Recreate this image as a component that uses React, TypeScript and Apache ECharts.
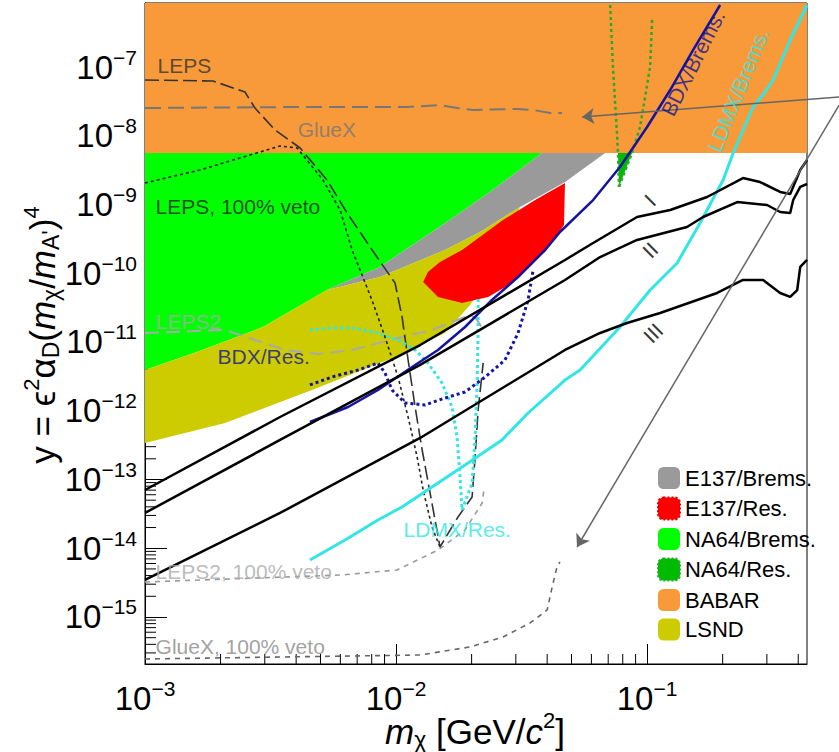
import React, { useEffect, useRef } from "react";
import * as echarts from "echarts";

const FONT = "'Liberation Sans', Arial, Helvetica, sans-serif";

// All coordinates are [log10(m_chi / GeV), log10(y)]
const X_RANGE = [-3, -0.363];
const Y_RANGE = [-15.684, -6.069];

// ---- excluded regions (filled) ----
const BABAR = [[-3, -8.251], [-0.363, -8.251], [-0.363, -6.069], [-3, -6.069]];
const NA64_BREMS = [[-3, -8.251], [-1.418, -8.251], [-1.626, -8.818], [-1.797, -9.254], [-1.964, -9.662], [-2.064, -9.909], [-2.275, -10.244], [-2.530, -10.782], [-2.793, -11.145], [-3, -11.407]];
const E137_BREMS = [[-2.275, -10.244], [-2.064, -9.909], [-1.964, -9.662], [-1.797, -9.254], [-1.626, -8.818], [-1.418, -8.251], [-1.167, -8.251], [-1.327, -8.673], [-1.506, -9.036], [-1.665, -9.400], [-1.805, -9.662], [-2.064, -10.055]];
const LSND = [[-3, -11.407], [-2.793, -11.145], [-2.530, -10.782], [-2.275, -10.244], [-2.064, -10.055], [-1.805, -9.662], [-1.665, -9.400], [-1.506, -9.036], [-1.586, -9.807], [-1.705, -10.462], [-1.805, -10.869], [-2.004, -11.218], [-2.335, -11.698], [-2.681, -12.178], [-3, -12.469]];
const E137_RES = [[-1.327, -8.687], [-1.331, -9.298], [-1.378, -9.545], [-1.434, -9.764], [-1.538, -10.142], [-1.633, -10.345], [-1.737, -10.433], [-1.833, -10.345], [-1.892, -10.127], [-1.873, -9.982], [-1.825, -9.836], [-1.737, -9.662], [-1.574, -9.226], [-1.446, -8.935]];
const NA64_RES_LEFT = [[-1.147, -6.098], [-1.136, -7.0], [-1.120, -7.960], [-1.116, -8.251], [-1.112, -8.745]];
const NA64_RES_RIGHT = [[-0.980, -6.316], [-0.988, -7.0], [-1.028, -7.873], [-1.060, -8.251], [-1.112, -8.745]];

// ---- projected sensitivities (curves) ----
const BDX_BREMS = [[-2.343, -12.164], [-2.191, -11.946], [-2.072, -11.698], [-1.936, -11.364], [-1.833, -11.116], [-1.725, -10.782], [-1.618, -10.389], [-1.514, -10.055], [-1.406, -9.662], [-1.347, -9.400], [-1.215, -8.935], [-1.108, -8.455], [-1.000, -7.873], [-0.908, -7.335], [-0.817, -6.753], [-0.709, -6.098]];
const BDX_RES = [[-2.343, -11.625], [-2.255, -11.509], [-2.151, -11.407], [-2.072, -11.305], [-2.044, -11.451], [-2.016, -11.698], [-1.964, -11.887], [-1.884, -11.916], [-1.805, -11.815], [-1.725, -11.727], [-1.645, -11.509], [-1.566, -11.262], [-1.514, -10.869], [-1.474, -10.389], [-1.454, -9.953]];
const LDMX_BREMS = [[-2.343, -14.171], [-2.203, -13.880], [-2.072, -13.589], [-1.976, -13.400], [-1.833, -13.051], [-1.713, -12.760], [-1.578, -12.425], [-1.474, -12.033], [-1.327, -11.553], [-1.267, -11.407], [-1.108, -10.782], [-0.988, -10.244], [-0.880, -9.851], [-0.789, -9.269], [-0.697, -8.644], [-0.657, -8.251], [-0.578, -7.582], [-0.530, -7.364], [-0.498, -7.189], [-0.430, -6.607], [-0.363, -6.098]];
const LDMX_RES = [[-2.343, -10.825], [-2.255, -10.796], [-2.175, -10.796], [-2.072, -10.869], [-1.992, -10.971], [-1.924, -11.116], [-1.873, -11.305], [-1.817, -11.596], [-1.777, -11.946], [-1.757, -12.382], [-1.745, -12.964], [-1.737, -13.444], [-1.697, -13.051], [-1.685, -12.382], [-1.677, -11.596], [-1.673, -10.869], [-1.673, -10.345]];
const LINE_I = [[-3, -13.153], [-2.462, -12.091], [-1.904, -11.044], [-1.327, -9.807], [-1.215, -9.560], [-1.040, -9.182], [-0.908, -9.080], [-0.761, -8.891], [-0.618, -8.615], [-0.550, -8.673], [-0.470, -8.818], [-0.430, -8.847], [-0.390, -8.498], [-0.363, -8.353]];
const LINE_II = [[-3, -13.487], [-2.462, -12.425], [-1.904, -11.334], [-1.327, -10.098], [-1.187, -9.764], [-1.040, -9.516], [-0.841, -9.327], [-0.777, -9.182], [-0.641, -8.964], [-0.522, -9.007], [-0.470, -9.109], [-0.430, -9.124], [-0.418, -8.935], [-0.390, -8.745], [-0.363, -8.702]];
const LINE_III = [[-3, -14.462], [-2.462, -13.487], [-1.904, -12.396], [-1.327, -11.116], [-1.187, -10.869], [-1.080, -10.724], [-0.948, -10.578], [-0.721, -10.287], [-0.618, -10.098], [-0.538, -10.098], [-0.470, -10.287], [-0.430, -10.345], [-0.402, -10.244], [-0.390, -9.909], [-0.363, -9.807]];
const LEPS = [[-3, -7.189], [-2.729, -7.204], [-2.602, -7.364], [-2.562, -7.596], [-2.482, -7.916], [-2.382, -8.178], [-2.275, -8.644], [-2.195, -9.124], [-2.076, -9.764], [-2.004, -10.142], [-1.976, -10.636], [-1.952, -11.262], [-1.924, -11.946], [-1.896, -12.571], [-1.857, -13.342], [-1.825, -13.982], [-1.753, -13.545], [-1.697, -13.254], [-1.685, -12.673], [-1.673, -11.989], [-1.653, -11.305]];
const LEPS_VETO = [[-3, -8.687], [-2.781, -8.498], [-2.582, -8.280], [-2.462, -8.149], [-2.394, -8.178], [-2.291, -8.644], [-2.223, -9.080], [-2.175, -9.662], [-2.096, -10.389], [-2.044, -10.927], [-1.992, -11.509], [-1.952, -12.091], [-1.916, -12.673], [-1.892, -13.153], [-1.857, -13.691], [-1.825, -13.982]];
const GLUEX = [[-3, -7.596], [-2.382, -7.582], [-1.956, -7.582], [-1.825, -7.553], [-1.757, -7.596], [-1.693, -7.625], [-1.518, -7.611], [-1.454, -7.625], [-1.386, -7.669], [-1.339, -7.669]];
const LEPS2 = [[-3, -10.869], [-2.681, -10.825], [-2.562, -10.971], [-2.442, -11.116], [-2.311, -11.174], [-2.175, -11.116], [-1.992, -10.942], [-1.857, -10.825], [-1.725, -10.636], [-1.685, -10.636], [-1.657, -10.796]];
const LEPS2_VETO = [[-3, -14.491], [-2.215, -14.389], [-1.996, -14.316], [-1.833, -14.026], [-1.725, -13.734], [-1.657, -13.342], [-1.649, -13.124]];
const GLUEX_VETO = [[-3, -15.611], [-1.904, -15.553], [-1.705, -15.436], [-1.574, -15.291], [-1.466, -15.087], [-1.398, -14.898], [-1.378, -14.563], [-1.359, -14.273], [-1.347, -14.200]];

// ---- arrows (start, end) ----
const ARROWS = [
  [[-0.235, -7.436], [-1.259, -7.727]],
  [[-0.235, -7.553], [-1.279, -13.982]],
];

// ---- annotation anchors ----
const NOTES = [
  { text: "LEPS", at: [-2.952, -6.985] },
  { text: "GlueX", at: [-2.394, -7.916] },
  { text: "LEPS, 100% veto", at: [-2.960, -9.036] },
  { text: "LEPS2", at: [-2.960, -10.709] },
  { text: "BDX/Res.", at: [-2.713, -11.218] },
  { text: "LDMX/Res.", at: [-1.972, -13.734] },
  { text: "LEPS2, 100% veto", at: [-2.960, -14.345] },
  { text: "GlueX, 100% veto", at: [-2.960, -15.436] },
  { text: "BDX/Brems.", at: [-0.817, -6.942] },
  { text: "LDMX/Brems.", at: [-0.637, -7.335] },
  { text: "I", at: [-0.988, -8.935] },
  { text: "II", at: [-0.988, -9.662] },
  { text: "III", at: [-0.976, -10.869] },
];

const LEGEND_NAMES = ["E137/Brems.", "E137/Res.", "NA64/Brems.", "NA64/Res.", "BABAR", "LSND"];

// ---- styles ----
const COL = {
  babar: "#f89a3a",
  na64b: "#00ff00",
  e137b: "#9a9a9a",
  lsnd: "#cccc00",
  e137r: "#ff0000",
  na64r: "#00bb00",
  na64rLine: "#2da82d",
  bdx: "#1414a0",
  ldmx: "#33e6e6",
};

const NOTE_STYLE: Record<string, any> = {
  "LEPS": { color: "#333333" },
  "GlueX": { color: "#777777" },
  "LEPS, 100% veto": { color: "#222222" },
  "LEPS2": { color: "#aaaaaa" },
  "BDX/Res.": { color: "#141496" },
  "LDMX/Res.": { color: "#2ee6e6" },
  "LEPS2, 100% veto": { color: "#aaaaaa" },
  "GlueX, 100% veto": { color: "#888888" },
  "BDX/Brems.": { color: "#141496", rotate: 63, center: true },
  "LDMX/Brems.": { color: "#2ee6e6", rotate: 68, center: true },
  "I": { color: "#000000", rotate: 45, center: true },
  "II": { color: "#000000", rotate: 45, center: true },
  "III": { color: "#000000", rotate: 45, center: true },
};

const LEGEND_STYLE: Record<string, any> = {
  "E137/Brems.": { color: COL.e137b },
  "E137/Res.": { color: COL.e137r, borderColor: "#dd0000", borderWidth: 2, borderType: "dotted" },
  "NA64/Brems.": { color: COL.na64b },
  "NA64/Res.": { color: COL.na64r, borderColor: COL.na64rLine, borderWidth: 2, borderType: "dotted" },
  "BABAR": { color: COL.babar },
  "LSND": { color: COL.lsnd },
};

function polygonSeries(name: string, pts: number[][], fill: string) {
  return {
    type: "custom",
    name,
    silent: true,
    coordinateSystem: "cartesian2d",
    data: pts,
    encode: { x: 0, y: 1 },
    itemStyle: { color: fill },
    renderItem: (params: any, api: any) => {
      if (params.dataIndex !== 0) return null;
      return {
        type: "polygon",
        shape: { points: pts.map((p) => api.coord(p)) },
        style: { fill, stroke: "none" },
      };
    },
  };
}

function curveSeries(name: string, pts: number[][], color: string, width: number, type: any) {
  return {
    type: "line",
    name,
    data: pts,
    silent: true,
    showSymbol: false,
    symbol: "none",
    lineStyle: { color, width, type, cap: "butt" },
  };
}

function tickSeries(values: number[][], dir: "x" | "y", len: number) {
  return {
    type: "custom",
    silent: true,
    coordinateSystem: "cartesian2d",
    data: values,
    encode: { x: 0, y: 1 },
    renderItem: (params: any, api: any) => {
      const p = api.coord([api.value(0), api.value(1)]);
      const shape = dir === "x"
        ? { x1: p[0], y1: p[1], x2: p[0], y2: p[1] - len }
        : { x1: p[0], y1: p[1], x2: p[0] + len, y2: p[1] };
      return { type: "line", shape, style: { stroke: "#000", lineWidth: 1 } };
    },
  };
}

const X_MINOR: number[][] = [];
for (let d = -3; d <= -1; d++) {
  for (let k = 2; k <= 9; k++) {
    const v = d + Math.log10(k);
    if (v < X_RANGE[1]) X_MINOR.push([v, Y_RANGE[0]]);
  }
}
const Y_MINOR: number[][] = [];
for (let d = -16; d <= -7; d++) {
  for (let k = 2; k <= 9; k++) {
    const v = d + Math.log10(k);
    if (v > Y_RANGE[0] && v < Y_RANGE[1]) Y_MINOR.push([X_RANGE[0], v]);
  }
}

const powLabel = (v: number) => {
  const r = Math.round(v);
  if (Math.abs(v - r) > 1e-6) return "";
  return `{b|10}{e|\u2212${-r}}`;
};
const powRich = {
  b: { fontSize: 33, fontFamily: FONT, color: "#000" },
  e: { fontSize: 21, fontFamily: FONT, color: "#000", padding: [0, 0, 20, 0] },
};

const titleRich = {
  n: { fontSize: 35, fontFamily: FONT, color: "#000" },
  i: { fontSize: 35, fontFamily: FONT, color: "#000", fontStyle: "italic" },
  sup: { fontSize: 22, fontFamily: FONT, color: "#000", padding: [0, 0, 21, 0] },
  sub: { fontSize: 23, fontFamily: FONT, color: "#000", padding: [17, 0, 0, 0] },
};

function buildOption() {
  const na64ResFill = NA64_RES_LEFT.concat(NA64_RES_RIGHT.slice().reverse());
  return {
    animation: false,
    backgroundColor: "#ffffff",
    grid: {
      left: 145, top: 3, width: 662, height: 661,
      show: true, borderColor: "#000", borderWidth: 1, backgroundColor: "transparent",
      containLabel: false,
    },
    xAxis: {
      type: "value",
      min: X_RANGE[0], max: X_RANGE[1],
      minInterval: 1, maxInterval: 1, splitNumber: 3,
      axisLine: { show: true, onZero: false, lineStyle: { color: "#000", width: 1 } },
      axisTick: { show: true, inside: true, length: 20, lineStyle: { color: "#000", width: 1 } },
      splitLine: { show: false },
      axisLabel: {
        show: true, margin: 14, showMinLabel: true, showMaxLabel: false,
        formatter: powLabel, rich: powRich, fontFamily: FONT,
      },
    },
    yAxis: {
      type: "value",
      min: Y_RANGE[0], max: Y_RANGE[1],
      minInterval: 1, maxInterval: 1, splitNumber: 10,
      axisLine: { show: true, onZero: false, lineStyle: { color: "#000", width: 1 } },
      axisTick: { show: true, inside: true, length: 22, lineStyle: { color: "#000", width: 1 } },
      splitLine: { show: false },
      axisLabel: {
        show: true, margin: 8, showMinLabel: false, showMaxLabel: false,
        formatter: powLabel, rich: powRich, fontFamily: FONT,
      },
    },
    legend: {
      show: true,
      orient: "vertical",
      left: 657, top: 467,
      padding: 0,
      itemWidth: 22, itemHeight: 22, itemGap: 7.5,
      selectedMode: false,
      textStyle: { fontSize: 22, color: "#000", fontFamily: FONT, lineHeight: 22 },
      data: LEGEND_NAMES.map((n) => ({ name: n, icon: "roundRect", itemStyle: LEGEND_STYLE[n] })),
    },
    graphic: [
      {
        type: "text",
        x: 42, y: 335, rotation: Math.PI / 2,
        silent: true,
        style: {
          text: "{n|y = \u03F5}{sup|2}{n|\u03B1}{sub|D}{n|(}{i|m}{sub|\u03C7}{n|/}{i|m}{sub|A'}{n|)}{sup|4}",
          rich: titleRich, fill: "#000", fontFamily: FONT, fontSize: 35,
          align: "center", verticalAlign: "middle", textAlign: "center", textVerticalAlign: "middle",
        },
      },
      {
        type: "text",
        x: 475, y: 731,
        silent: true,
        style: {
          text: "{i|m}{sub|\u03C7}{n| [GeV/}{i|c}{sup|2}{n|]}",
          rich: titleRich, fill: "#000", fontFamily: FONT, fontSize: 35,
          align: "center", verticalAlign: "middle", textAlign: "center", textVerticalAlign: "middle",
        },
      },
    ],
    series: [
      tickSeries(X_MINOR, "x", 10),
      tickSeries(Y_MINOR, "y", 11),
      polygonSeries("NA64/Brems.", NA64_BREMS, COL.na64b),
      polygonSeries("E137/Brems.", E137_BREMS, COL.e137b),
      polygonSeries("LSND", LSND, COL.lsnd),
      polygonSeries("E137/Res.", E137_RES, COL.e137r),
      polygonSeries("NA64/Res.", na64ResFill, COL.na64r),
      polygonSeries("BABAR", BABAR, COL.babar),
      curveSeries("LEPS2 100%", LEPS2_VETO, "#9a9a9a", 1.6, [5, 5]),
      curveSeries("GlueX 100%", GLUEX_VETO, "#666666", 1.6, [5, 5]),
      curveSeries("LEPS2 curve", LEPS2, "#aaaaaa", 2, [14, 7]),
      curveSeries("GlueX curve", GLUEX, "#777777", 2, [16, 7]),
      curveSeries("LEPS veto curve", LEPS_VETO, "#222222", 1.6, [3, 3]),
      curveSeries("LEPS curve", LEPS, "#333333", 1.6, [14, 5]),
      curveSeries("NA64 res L", NA64_RES_LEFT, COL.na64rLine, 2.5, [3, 3]),
      curveSeries("NA64 res R", NA64_RES_RIGHT, COL.na64rLine, 2.5, [3, 3]),
      curveSeries("LDMX res", LDMX_RES, COL.ldmx, 3, [3, 3]),
      curveSeries("BDX res", BDX_RES, COL.bdx, 3, [3, 3]),
      curveSeries("LDMX brems", LDMX_BREMS, COL.ldmx, 3, "solid"),
      curveSeries("BDX brems", BDX_BREMS, COL.bdx, 2.5, "solid"),
      curveSeries("I", LINE_I, "#000000", 2.5, "solid"),
      curveSeries("II", LINE_II, "#000000", 2.5, "solid"),
      curveSeries("III", LINE_III, "#000000", 2.5, "solid"),
      {
        type: "lines",
        coordinateSystem: "cartesian2d",
        silent: true,
        clip: false,
        symbol: ["none", "arrow"],
        symbolSize: [0, 12],
        lineStyle: { color: "#666666", width: 1.5, opacity: 1, curveness: 0 },
        data: ARROWS.map((a) => ({ coords: a })),
        z: 4,
      },
      {
        type: "scatter",
        silent: true,
        symbolSize: 1,
        itemStyle: { color: "transparent" },
        z: 5,
        data: NOTES.map((n) => {
          const s = NOTE_STYLE[n.text] || {};
          return {
            value: n.at,
            label: {
              show: true,
              formatter: n.text,
              position: s.center ? "inside" : "right",
              distance: 0,
              rotate: s.rotate || 0,
              color: s.color,
              fontSize: 21,
              fontFamily: FONT,
            },
          };
        }),
      },
    ],
  };
}

export default function App() {
  const ref = useRef<HTMLDivElement>(null);
  useEffect(() => {
    if (!ref.current) return;
    const chart = echarts.init(ref.current, null, { renderer: "svg" });
    chart.setOption(buildOption() as any);
    return () => chart.dispose();
  }, []);
  return (
    <div
      ref={ref}
      style={{ position: "fixed", left: 0, top: 0, width: 839, height: 752, background: "#fff" }}
    />
  );
}
